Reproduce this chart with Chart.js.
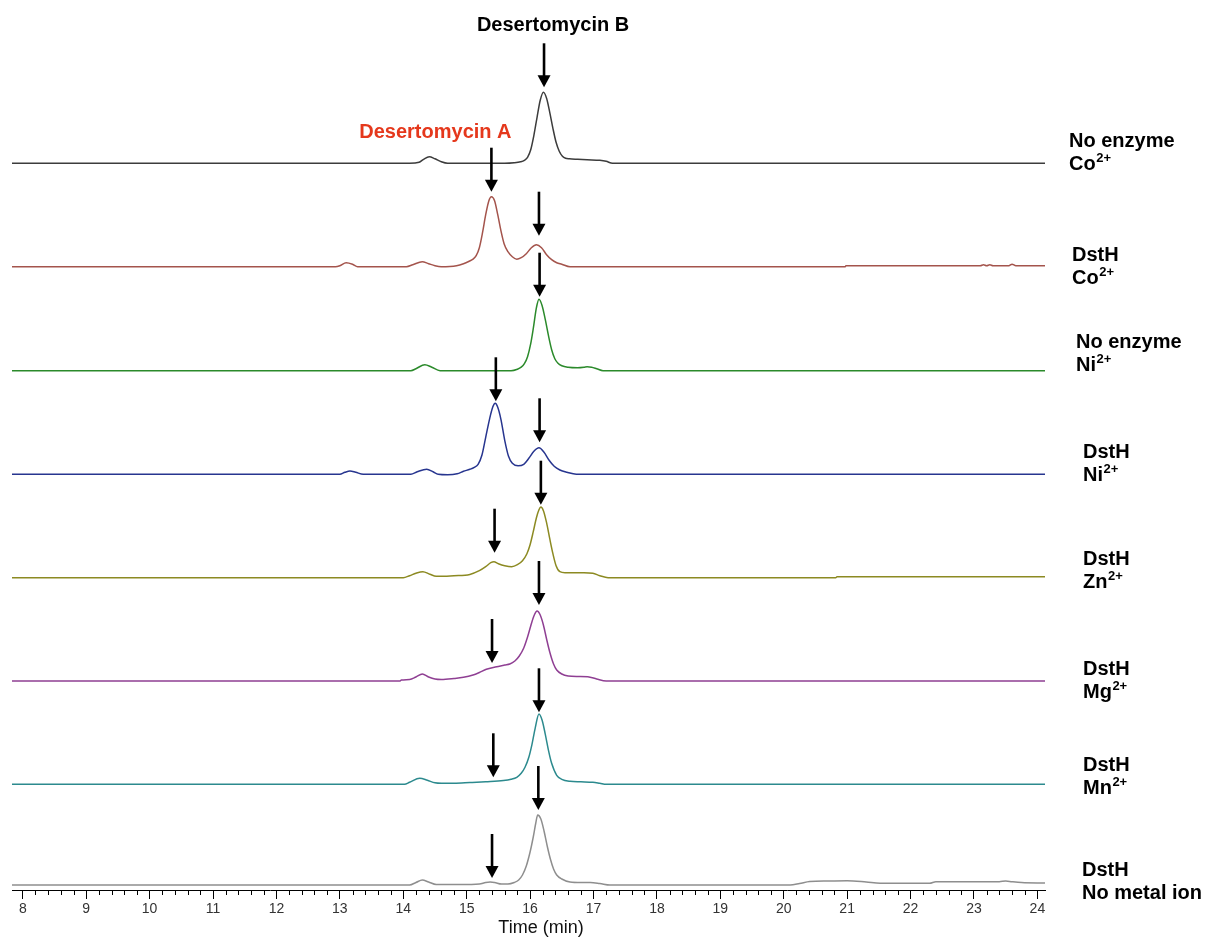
<!DOCTYPE html>
<html>
<head>
<meta charset="utf-8">
<title>DstH metal dependence - HPLC traces</title>
<script src="https://cdn.jsdelivr.net/npm/chart.js@4.4.1/dist/chart.umd.min.js"></script>
<style>
  html, body { margin: 0; padding: 0; background: #fff; }
  #wrap { position: relative; width: 1211px; height: 938px; }
</style>
</head>
<body>
<div id="wrap"><canvas id="hplc"></canvas></div>
<script>
// retention time window (min)
const timeMin = 7.83;
const timeMax = 24.12;

// chromatograms: [time (min), detector signal] for each reaction
const noEnzymeCo = [[7.83,0],[14.1,0],[14.25,1],[14.32,4],[14.41,6.5],[14.5,4.5],[14.6,1.5],[14.7,0],[15.6,0],[15.75,0.5],[15.85,1.5],[15.91,3],[15.96,6],[16.01,13.5],[16.06,28],[16.11,46],[16.16,63],[16.21,71],[16.26,65],[16.31,51],[16.36,35],[16.41,21],[16.46,12],[16.51,7],[16.56,5],[16.62,4.5],[16.75,4],[16.9,3.5],[17.1,3],[17.2,2],[17.3,0],[24.12,0]];
const dsthCo = [[7.83,0],[12.93,0],[13.0,1],[13.1,4],[13.2,2.5],[13.28,0],[14.05,0],[14.15,2],[14.3,5],[14.4,3],[14.5,1],[14.6,0],[14.84,1],[14.95,3],[15.04,5.5],[15.1,7.5],[15.15,11],[15.2,19],[15.25,34],[15.3,52],[15.35,66],[15.39,70],[15.44,66],[15.49,52],[15.54,36],[15.59,23],[15.65,15],[15.72,10],[15.79,7.5],[15.86,9],[15.94,13],[16.02,19],[16.1,22],[16.18,19],[16.26,12],[16.34,7],[16.42,4],[16.5,2.5],[16.63,0],[20.97,0],[20.98,1],[23.1,1],[23.15,2],[23.2,1],[23.25,2],[23.3,1],[23.55,1],[23.6,2.5],[23.66,1],[24.12,1]];
const noEnzymeNi = [[7.83,0],[14.12,0],[14.2,2],[14.34,6],[14.45,3.5],[14.58,0],[15.7,0],[15.8,1.5],[15.86,3.5],[15.91,7],[15.96,14],[16.01,27],[16.05,42],[16.1,63],[16.14,71.5],[16.19,65],[16.24,51],[16.29,35],[16.34,21],[16.39,12],[16.44,7.5],[16.5,5],[16.6,3.5],[16.75,3],[16.85,3.5],[16.9,4],[16.97,3.5],[17.05,2],[17.15,0],[24.12,0]];
const dsthNi = [[7.83,0],[13.0,0],[13.08,2],[13.16,3.3],[13.25,2],[13.37,0],[14.12,0],[14.22,2.5],[14.37,5],[14.47,2.5],[14.55,0],[14.7,-0.5],[14.85,0.5],[14.95,3],[15.05,5],[15.12,7],[15.18,10],[15.24,19],[15.3,37],[15.36,55],[15.41,67],[15.45,71],[15.49,67],[15.54,55],[15.6,34],[15.66,18],[15.72,11],[15.81,8.5],[15.9,10],[15.98,16],[16.06,23],[16.14,26.5],[16.22,22],[16.3,14],[16.38,8],[16.47,4.3],[16.58,2],[16.73,0],[24.12,0]];
const dsthZn = [[7.83,0],[14.0,0],[14.1,2],[14.2,4.5],[14.31,6],[14.42,3.5],[14.52,1.5],[14.6,1.5],[14.8,2],[15.05,3.3],[15.2,7],[15.3,11],[15.38,15],[15.43,16],[15.5,14],[15.6,12],[15.71,11],[15.8,13],[15.88,17],[15.95,24],[16.0,33],[16.05,46],[16.1,60],[16.14,68],[16.17,70.7],[16.21,67],[16.26,55],[16.31,39],[16.36,24],[16.41,12],[16.47,6],[16.55,5],[16.7,5],[16.85,5],[16.99,4.5],[17.1,2],[17.23,0],[20.82,0],[20.84,1],[24.12,1]];
const dsthMg = [[7.83,0],[13.95,0],[13.97,1],[14.1,1.5],[14.2,4],[14.3,7],[14.4,4],[14.5,2],[14.6,1.5],[14.8,2.5],[14.95,3.7],[15.1,6],[15.2,8.5],[15.31,11.7],[15.45,14],[15.6,16],[15.68,17],[15.76,20],[15.83,25],[15.9,33],[15.96,44],[16.01,55],[16.06,65],[16.11,70],[16.16,66],[16.21,56],[16.26,42],[16.31,29],[16.37,17],[16.42,11],[16.5,7],[16.6,5],[16.75,4.5],[16.91,4.3],[17.05,2],[17.2,0],[24.12,0]];
const dsthMn = [[7.83,0],[14.02,0],[14.1,2],[14.26,6],[14.38,4],[14.5,1.5],[14.6,1],[14.8,1],[15.05,1.7],[15.3,2.5],[15.58,3.7],[15.7,5],[15.79,7],[15.86,11],[15.92,17],[15.98,27],[16.03,40],[16.08,56],[16.14,70.3],[16.19,64],[16.24,50],[16.29,34],[16.34,21],[16.42,9],[16.5,5],[16.63,3],[16.8,2.5],[16.99,2],[17.1,1],[17.2,0],[24.12,0]];
const dsthNoMetal = [[7.83,0],[14.1,0],[14.2,2.5],[14.3,5],[14.4,3],[14.52,0.5],[14.9,0.5],[15.2,1],[15.3,2.5],[15.37,3],[15.44,2.5],[15.55,1],[15.65,1],[15.75,2.5],[15.82,5],[15.88,10],[15.94,19],[16.0,33],[16.05,48],[16.09,62],[16.12,70],[16.17,66],[16.22,54],[16.27,39],[16.32,26],[16.37,16],[16.42,10],[16.5,6],[16.63,3],[16.8,2.5],[16.95,2.5],[17.1,1.5],[17.26,0],[20.1,0],[20.25,1.5],[20.41,3.5],[20.7,4],[21.0,4.3],[21.3,3],[21.52,1.7],[22.3,1.7],[22.4,3.3],[23.4,3.3],[23.5,4],[23.6,3.3],[23.75,2.5],[24.12,2]];

const traces = [noEnzymeCo, dsthCo, noEnzymeNi, dsthNi, dsthZn, dsthMg, dsthMn, dsthNoMetal];

// sample labels (first line, second line, superscript)
const labelTop = ['No enzyme', 'DstH', 'No enzyme', 'DstH', 'DstH', 'DstH', 'DstH', 'DstH'];
const labelBase = ['Co', 'Co', 'Ni', 'Ni', 'Zn', 'Mg', 'Mn', 'No metal ion'];
const labelSup = ['2+', '2+', '2+', '2+', '2+', '2+', '2+', ''];

// marked peaks: trace index, retention time, signal level at arrow tip
const arrowTrace = [0, 1, 1, 2, 3, 3, 4, 4, 5, 5, 6, 6, 7, 7];
const arrowTime = [16.22, 15.39, 16.14, 16.15, 15.46, 16.15, 15.44, 16.17, 16.14, 15.4, 16.14, 15.42, 16.13, 15.4];
const arrowLevel = [76, 75, 31, 74, 73, 32, 25, 73, 76, 18, 72, 7, 75, 7];

// stacking and styling
const stackOffset = [721.7, 618.3, 514.3, 410.7, 307.3, 204, 100.7, 0];
const lineColors = ['#3c3c3c', '#a4544c', '#2b8a2b', '#27358f', '#8c8a22', '#8f3f93', '#2c8a8e', '#8e8e8e'];
const labelPos = [[1069, 141], [1072, 255], [1076, 342], [1083, 452], [1083, 559], [1083, 669], [1083, 765], [1082, 870]];

const datasets = traces.map((pts, i) => ({
  data: pts.map(p => ({ x: p[0], y: p[1] + stackOffset[i] })),
  borderColor: lineColors[i],
  borderWidth: 1.5,
  pointRadius: 0,
  fill: false,
  cubicInterpolationMode: 'monotone'
}));

const boldFont = 'bold 20px "Liberation Sans", Arial, sans-serif';

function drawArrow(ctx, px, tip) {
  ctx.strokeStyle = '#000';
  ctx.fillStyle = '#000';
  ctx.lineWidth = 2.6;
  ctx.beginPath();
  ctx.moveTo(px, tip - 44);
  ctx.lineTo(px, tip - 10);
  ctx.stroke();
  ctx.beginPath();
  ctx.moveTo(px - 6.5, tip - 12);
  ctx.lineTo(px + 6.5, tip - 12);
  ctx.lineTo(px, tip);
  ctx.closePath();
  ctx.fill();
}

const overlay = {
  id: 'overlay',
  afterDraw(chart) {
    const ctx = chart.ctx;
    const x = chart.scales.x, y = chart.scales.y;
    ctx.save();

    // minor ticks every 0.2 min
    ctx.strokeStyle = '#000';
    ctx.lineWidth = 1;
    ctx.beginPath();
    for (let i = Math.ceil(x.min * 5); i <= Math.floor(x.max * 5); i++) {
      if (i % 5 === 0) continue;
      const px = Math.round(x.getPixelForValue(i / 5)) + 0.5;
      ctx.moveTo(px, x.top);
      ctx.lineTo(px, x.top + 5);
    }
    ctx.stroke();

    // peak arrows
    const tips = arrowTime.map((t, k) => ({
      px: x.getPixelForValue(t),
      tip: y.getPixelForValue(stackOffset[arrowTrace[k]] + arrowLevel[k])
    }));
    tips.forEach(a => drawArrow(ctx, a.px, a.tip));

    // compound names
    ctx.font = boldFont;
    ctx.textAlign = 'center';
    ctx.textBaseline = 'middle';
    ctx.fillStyle = '#000';
    ctx.fillText('Desertomycin B', tips[0].px + 9, tips[0].tip - 62);
    ctx.fillStyle = '#e5381c';
    ctx.fillText('Desertomycin A', tips[1].px - 56, tips[1].tip - 59);

    // sample labels on the right
    ctx.textAlign = 'left';
    ctx.fillStyle = '#000';
    labelTop.forEach((txt, i) => {
      const lx = labelPos[i][0], ly = labelPos[i][1];
      ctx.font = boldFont;
      ctx.fillText(txt, lx, ly);
      ctx.fillText(labelBase[i], lx, ly + 23);
      if (labelSup[i]) {
        const w = ctx.measureText(labelBase[i]).width;
        ctx.font = 'bold 13px "Liberation Sans", Arial, sans-serif';
        ctx.fillText(labelSup[i], lx + w + 0.5, ly + 17);
      }
    });

    // axis title
    ctx.font = '18px "Liberation Sans", Arial, sans-serif';
    ctx.textAlign = 'center';
    ctx.fillStyle = '#111';
    ctx.fillText('Time (min)', 541, 928);
    ctx.restore();
  }
};

new Chart(document.getElementById('hplc'), {
  type: 'line',
  data: { datasets },
  plugins: [overlay],
  options: {
    responsive: true,
    maintainAspectRatio: false,
    animation: false,
    layout: { padding: { left: 12, right: 166, top: 10, bottom: 0 } },
    plugins: { legend: { display: false }, tooltip: { enabled: false } },
    scales: {
      x: {
        type: 'linear',
        position: 'bottom',
        min: timeMin,
        max: timeMax,
        afterFit: s => { s.height = 48; },
        border: { display: true, color: '#000', width: 1 },
        grid: { drawOnChartArea: false, drawTicks: true, tickLength: 9, tickColor: '#000', tickWidth: 1 },
        ticks: {
          stepSize: 1,
          includeBounds: false,
          autoSkip: false,
          maxRotation: 0,
          padding: 2,
          color: '#333',
          font: { family: '"Liberation Sans Narrow", "Liberation Sans", Arial, sans-serif', size: 14 }
        }
      },
      y: { display: false, min: -5, max: 875 }
    }
  }
});
</script>
</body>
</html>
